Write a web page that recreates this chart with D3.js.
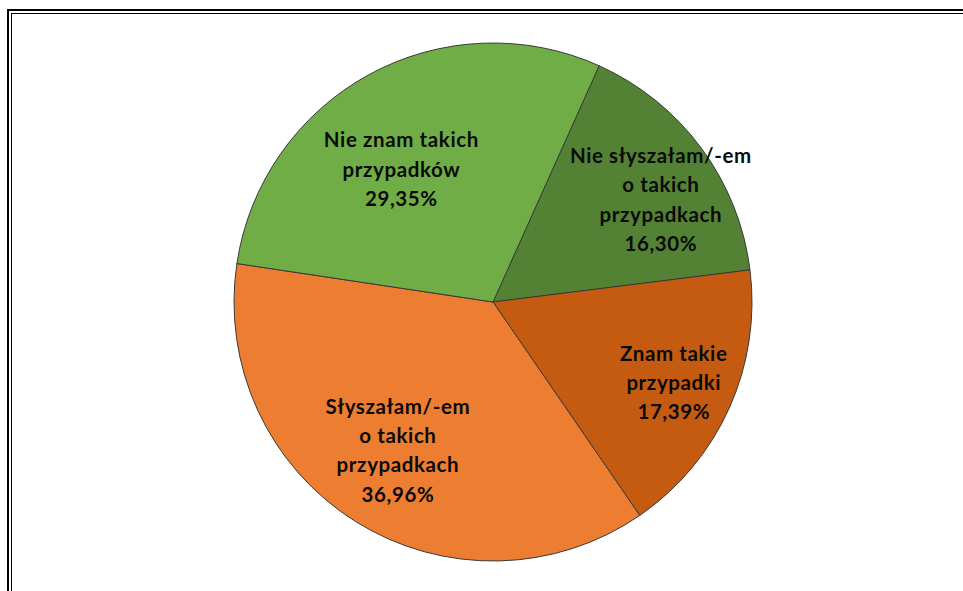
<!DOCTYPE html>
<html>
<head>
<meta charset="utf-8">
<script src="https://cdn.jsdelivr.net/npm/d3@7"></script>
<style>
  html, body { margin: 0; padding: 0; background: #fff; }
  svg { display: block; }
</style>
</head>
<body>
<svg id="chart" width="963" height="591"></svg>
<script>
const categories = [
  ["Nie słyszałam/-em", "o takich", "przypadkach"],
  ["Znam takie", "przypadki"],
  ["Słyszałam/-em", "o takich", "przypadkach"],
  ["Nie znam takich", "przypadków"]
];
const values = [16.30, 17.39, 36.96, 29.35];
const colours = ["#548235", "#c55a11", "#ed7d31", "#70ad47"];

const svg = d3.select("#chart"),
  width = 963,
  height = 591,
  cx = 493,
  cy = 302,
  radius = 259,
  labelRadius = 185,
  lineHeight = 29.2,
  firstAngle = (24.2 * Math.PI) / 180;

// nudges so labels land where excel put them
const labelNudge = [
  [19, 8],
  [12, 5],
  [3, -8],
  [-3, 30]
];

// double frame, right and bottom run off the picture
svg.append("rect")
  .attr("x", 8).attr("y", 10)
  .attr("width", width + 20).attr("height", height + 20)
  .attr("fill", "none").attr("stroke", "#000").attr("stroke-width", 2);
svg.append("rect")
  .attr("x", 11.5).attr("y", 13.5)
  .attr("width", width + 20).attr("height", height + 20)
  .attr("fill", "none").attr("stroke", "#000").attr("stroke-width", 1);

const pie = d3.pie()
  .sort(null)
  .value((d) => d)
  .startAngle(firstAngle)
  .endAngle(firstAngle + 2 * Math.PI);

const arc = d3.arc().innerRadius(0).outerRadius(radius);
const labelArc = d3.arc().innerRadius(labelRadius).outerRadius(labelRadius);

const g = svg.append("g").attr("transform", `translate(${cx},${cy})`);

const arcs = pie(values);

g.selectAll("path")
  .data(arcs)
  .enter()
  .append("path")
  .attr("d", arc)
  .attr("fill", (d, i) => colours[i])
  .attr("stroke", "#3a3a3a")
  .attr("stroke-width", 1);

const fmt = (v) => v.toFixed(2).replace(".", ",") + "%";

const label = g.selectAll("text.lbl")
  .data(arcs)
  .enter()
  .append("text")
  .attr("class", "lbl")
  .attr("text-anchor", "middle")
  .attr("font-family", "Lato, 'Open Sans', sans-serif")
  .attr("font-weight", "bold")
  .attr("font-size", "20.5px")
  .attr("letter-spacing", "0.6px")
  .attr("fill", "#0a0a0a")
  .attr("transform", (d, i) => {
    const [x, y] = labelArc.centroid(d);
    return `translate(${x + labelNudge[i][0]},${y + labelNudge[i][1]})`;
  });

label.each(function (d, i) {
  const lines = categories[i].concat([fmt(values[i])]);
  const t = d3.select(this);
  const top = -((lines.length - 1) * lineHeight) / 2 + 7;
  lines.forEach((s, k) => {
    t.append("tspan")
      .attr("x", 0)
      .attr("y", top + k * lineHeight)
      .text(s);
  });
});
</script>
</body>
</html>
